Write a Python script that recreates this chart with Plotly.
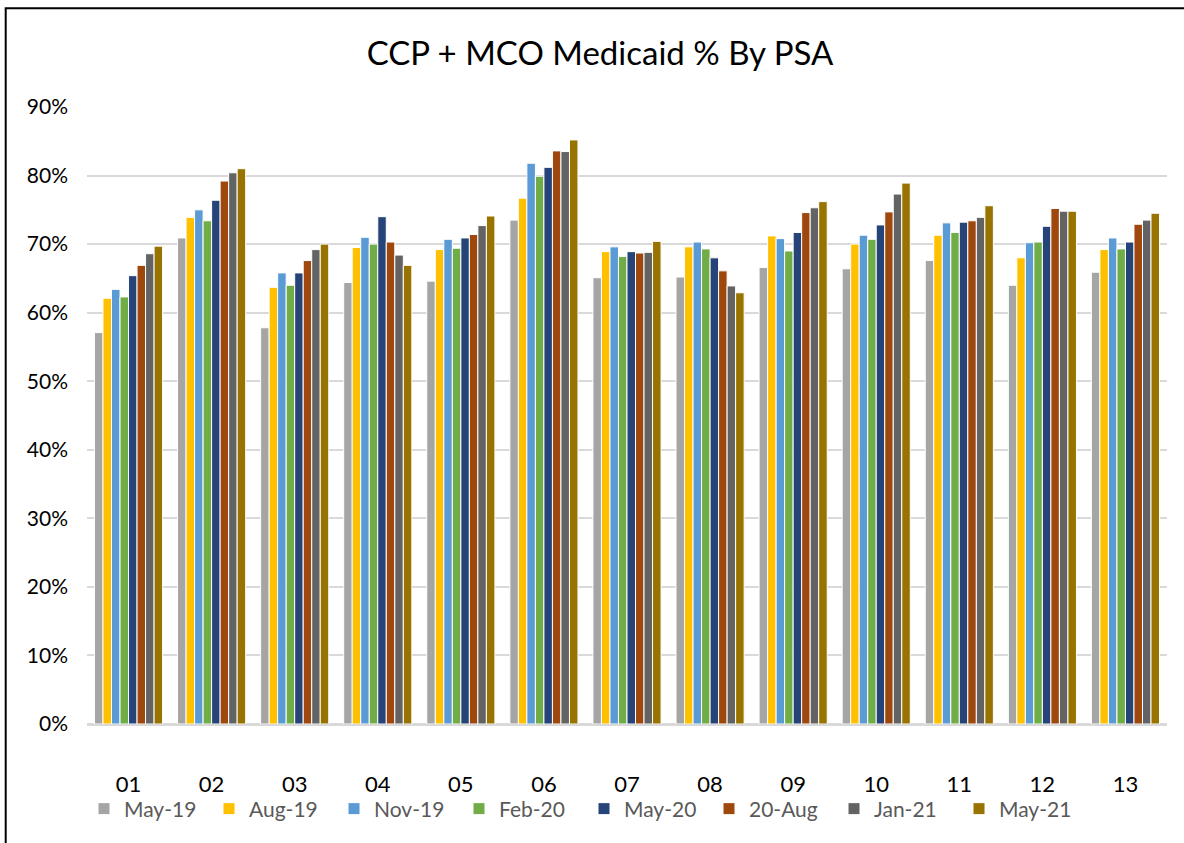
import plotly.graph_objects as go

categories = ["01", "02", "03", "04", "05", "06", "07", "08", "09", "10", "11", "12", "13"]

series_names = ["May-19", "Aug-19", "Nov-19", "Feb-20", "May-20", "20-Aug", "Jan-21", "May-21"]
series_colors = ["#A5A5A5", "#FFC000", "#5B9BD5", "#70AD47", "#264478", "#9E480E", "#636363", "#997300"]

may19 = [57.1, 70.9, 57.8, 64.4, 64.6, 73.5, 65.1, 65.2, 66.6, 66.4, 67.6, 64.0, 65.9]
aug19 = [62.1, 73.9, 63.7, 69.5, 69.2, 76.7, 68.9, 69.6, 71.2, 70.0, 71.3, 68.0, 69.2]
nov19 = [63.4, 75.0, 65.8, 71.0, 70.7, 81.8, 69.6, 70.3, 70.8, 71.3, 73.1, 70.2, 70.9]
feb20 = [62.3, 73.4, 64.0, 70.0, 69.4, 79.9, 68.2, 69.3, 69.0, 70.7, 71.7, 70.3, 69.3]
may20 = [65.4, 76.4, 65.8, 74.0, 70.9, 81.2, 68.9, 68.0, 71.7, 72.8, 73.2, 72.6, 70.3]
aug20 = [66.9, 79.2, 67.6, 70.3, 71.4, 83.6, 68.7, 66.1, 74.6, 74.7, 73.4, 75.2, 72.9]
jan21 = [68.6, 80.4, 69.2, 68.4, 72.7, 83.5, 68.8, 63.9, 75.3, 77.3, 73.9, 74.8, 73.5]
may21 = [69.7, 81.0, 70.0, 66.9, 74.1, 85.2, 70.4, 62.9, 76.2, 78.9, 75.6, 74.8, 74.5]

series_values = [may19, aug19, nov19, feb20, may20, aug20, jan21, may21]

FONT = "Lato"

fig = go.Figure()
for name, color, vals in zip(series_names, series_colors, series_values):
    fig.add_trace(go.Bar(
        name=name,
        x=categories,
        y=[v / 100 for v in vals],
        marker=dict(color=color, line=dict(color="white", width=1)),
    ))

W, H = 1184, 843
L, R, T, B = 87, 17, 107, 119
pw, ph = W - L - R, H - T - B

def px_x(p):
    return (p - L) / pw

def px_y(p):
    return (H - B - p) / ph

fig.update_layout(
    width=W, height=H,
    autosize=False,
    margin=dict(l=L, r=R, t=T, b=B, autoexpand=False),
    paper_bgcolor="white",
    plot_bgcolor="white",
    barmode="group",
    bargap=0.18,
    bargroupgap=0,
    title=dict(
        text="CCP + MCO Medicaid % By PSA",
        font=dict(family=FONT, size=33, color="black"),
        x=px_x(600), xref="paper", xanchor="center",
        y=1 - 53 / H, yref="container", yanchor="middle",
    ),
    legend=dict(
        orientation="h",
        x=px_x(584), xref="paper", xanchor="center",
        y=px_y(809), yanchor="middle",
        font=dict(family=FONT, size=21, color="#595959"),
        entrywidth=80, entrywidthmode="pixels",
        itemwidth=30,
        tracegroupgap=0,
        bgcolor="rgba(0,0,0,0)",
    ),
    showlegend=True,
    xaxis=dict(
        tickfont=dict(family=FONT, size=22, color="black"),
        showline=False,
        ticks="",
        ticklabelstandoff=45,
        automargin=False,
    ),
    yaxis=dict(
        range=[0, 0.9],
        dtick=0.1,
        tickformat=".0%",
        tickfont=dict(family=FONT, size=21, color="black"),
        gridcolor="#D9D9D9",
        gridwidth=1.5,
        zeroline=True,
        zerolinecolor="#D9D9D9",
        zerolinewidth=2.5,
        showline=False,
        ticks="",
        ticklabelstandoff=18,
        automargin=False,
    ),
    shapes=[dict(
        type="rect", xref="paper", yref="paper",
        x0=px_x(5.7), x1=px_x(1300),
        y0=px_y(1000), y1=px_y(8.3),
        line=dict(color="black", width=2),
        fillcolor="rgba(0,0,0,0)",
        layer="above",
    )],
)

fig.write_html(
    "out.html",
    config={"displayModeBar": False},
    post_script="document.body.style.margin='0';document.body.style.overflow='hidden';",
)
